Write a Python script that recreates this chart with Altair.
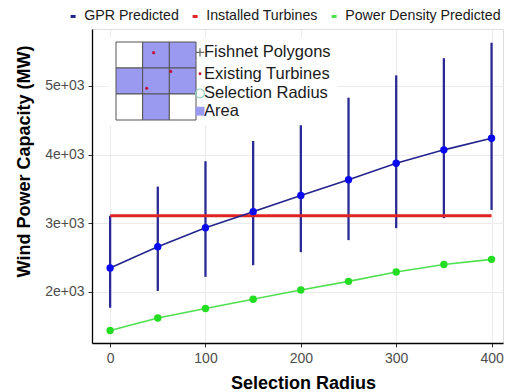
import altair as alt
import pandas as pd

# ---- main data ----
radius = [0, 50, 100, 150, 200, 250, 300, 350, 400]
gpr_mean = [2350, 2660, 2935, 3170, 3405, 3635, 3875, 4070, 4240]
gpr_lower = [1770, 2015, 2220, 2390, 2580, 2755, 2930, 3075, 3195]
gpr_upper = [3110, 3535, 3905, 4200, 4530, 4830, 5155, 5405, 5630]
installed = [3110, 3110, 3110, 3110, 3110, 3110, 3110, 3110, 3110]
density = [1440, 1620, 1760, 1895, 2030, 2155, 2290, 2400, 2475]

series_names = ["GPR Predicted", "Installed Turbines", "Power Density Predicted"]
series_colors = ["#23238e", "#e02424", "#4fe04f"]
point_colors = ["#0a0af0", "#22dd22"]

x_ticks = [0, 100, 200, 300, 400]
y_ticks = [2000, 3000, 4000, 5000]

# ---- inset legend (schematic grid) ----
cell_col = [0, 1, 2, 0, 1, 2, 0, 1, 2]
cell_row = [0, 0, 0, 1, 1, 1, 2, 2, 2]
cell_filled = [0, 1, 1, 1, 1, 1, 0, 1, 0]
turbine_col = [1.41, 2.05, 1.15]
turbine_row = [0.41, 1.13, 1.78]
inset_labels = ["Fishnet Polygons", "Existing Turbines", "Selection Radius", "Area"]
inset_label_row = [0.40, 1.22, 1.98, 2.66]
inset_box = [-0.3, 8.3, -0.19, 3.2]  # x0, x1, y0, y1 in grid cell units

FONT = "Liberation Sans"

gpr_df = pd.DataFrame({"radius": radius, "mean": gpr_mean, "lower": gpr_lower,
                       "upper": gpr_upper, "series": series_names[0]})
ins_df = pd.DataFrame({"radius": radius, "value": installed, "series": series_names[1]})
den_df = pd.DataFrame({"radius": radius, "value": density, "series": series_names[2]})
gpr_line_df = pd.DataFrame({"radius": radius, "value": gpr_mean, "series": series_names[0]})

xscale = alt.Scale(domain=[-19, 412], nice=False, zero=False)
yscale = alt.Scale(domain=[1257, 5830], nice=False, zero=False)

xaxis = alt.Axis(values=x_ticks, title="Selection Radius", grid=True, gridColor="#ebebeb",
                 gridWidth=1, domainColor="#000000", domainWidth=1.3, tickColor="#333333",
                 tickSize=4, labelColor="#4d4d4d", labelFontSize=14, labelPadding=4,
                 labelFont=FONT, titleFont=FONT, titleFontSize=18, titleFontWeight="bold",
                 titleColor="#000000", titleX=211, titleY=45, titleAnchor="start",
                 titleAlign="center", titleBaseline="alphabetic")
yaxis = alt.Axis(values=y_ticks, title="Wind Power Capacity (MW)", grid=True,
                 gridColor="#ebebeb", gridWidth=1, domainColor="#000000", domainWidth=1.3,
                 tickColor="#333333", tickSize=4, labelColor="#4d4d4d", labelFontSize=14,
                 labelPadding=4, labelFont=FONT, titleFont=FONT, titleFontSize=18,
                 titleFontWeight="bold", titleColor="#000000", titleX=-63, titleY=132,
                 titleAngle=-90, titleAlign="center", titleBaseline="alphabetic",
                 labelExpr="replace(format(datum.value, '.0e'), 'e+3', 'e+03')")

X = lambda f: alt.X(f, type="quantitative", scale=xscale, axis=xaxis)
Y = lambda f: alt.Y(f, type="quantitative", scale=yscale, axis=yaxis)

color = alt.Color("series:N", scale=alt.Scale(domain=series_names, range=series_colors),
                  legend=alt.Legend(orient="none", legendX=-26, legendY=-20,
                                    direction="horizontal", title=None, symbolType="stroke",
                                    symbolStrokeWidth=3, symbolSize=25, labelFontSize=14.2,
                                    labelFont=FONT, labelColor="#1a1a1a", labelOffset=4,
                                    columnPadding=7, padding=0))

errbars = alt.Chart(gpr_df).mark_rule(color="#2a2a96", strokeWidth=2.3).encode(
    x=X("radius"), y=Y("lower"), y2="upper")
red_line = alt.Chart(ins_df).mark_line(strokeWidth=3).encode(
    x=X("radius"), y=Y("value"), color=color)
gpr_line = alt.Chart(gpr_line_df).mark_line(strokeWidth=1.6).encode(
    x=X("radius"), y=Y("value"), color=color)
den_line = alt.Chart(den_df).mark_line(strokeWidth=1.6).encode(
    x=X("radius"), y=Y("value"), color=color)
gpr_pts = alt.Chart(gpr_df).mark_circle(size=55, opacity=1, color=point_colors[0]).encode(
    x=X("radius"), y=Y("mean"))
den_pts = alt.Chart(den_df).mark_circle(size=55, opacity=1, color=point_colors[1]).encode(
    x=X("radius"), y=Y("value"))

main = alt.layer(errbars, red_line, gpr_line, den_line, gpr_pts, den_pts)

# ---- inset ----
ixs = alt.Scale(domain=[0, 3], range=[24, 104], nice=False, zero=False)
iys = alt.Scale(domain=[0, 3], range=[13, 91], nice=False, zero=False)
IX = lambda f: alt.X(f, type="quantitative", scale=ixs, axis=None)
IY = lambda f: alt.Y(f, type="quantitative", scale=iys, axis=None)

cells = pd.DataFrame({"c0": cell_col, "r0": cell_row, "filled": cell_filled})
cells["c1"] = cells["c0"] + 1
cells["r1"] = cells["r0"] + 1
box = pd.DataFrame({"a": [inset_box[0]], "b": [inset_box[1]], "c": [inset_box[2]], "d": [inset_box[3]]})
turb = pd.DataFrame({"c": turbine_col, "r": turbine_row})
labs = pd.DataFrame({"label": inset_labels, "r": inset_label_row, "c": 3.3, "s": 3.15})

bg = alt.Chart(box).mark_rect(fill="white").encode(x=IX("a"), x2="b", y=IY("c"), y2="d")
grid = alt.Chart(cells).mark_rect(stroke="#555555", strokeWidth=1).encode(
    x=IX("c0"), x2="c1", y=IY("r0"), y2="r1",
    fill=alt.Fill("filled:N", scale=alt.Scale(domain=[0, 1], range=["#ffffff", "#9a9af0"]),
                  legend=None))
turbs = alt.Chart(turb).mark_circle(size=10, color="#c0103a", opacity=1).encode(
    x=IX("c"), y=IY("r"))
texts = alt.Chart(labs).mark_text(align="left", baseline="middle", fontSize=16.5, font=FONT,
                                  color="#1a1a1a").encode(x=IX("c"), y=IY("r"), text="label")
sym1 = alt.Chart(labs.iloc[[0]]).mark_point(shape="M-1,0L1,0M0,-1L0,1", size=70, stroke="#666666",
                                          strokeWidth=1.2, filled=False, opacity=1).encode(
    x=IX("s"), y=IY("r"))
sym2 = alt.Chart(labs.iloc[[1]]).mark_circle(size=8, color="#c0103a", opacity=1).encode(
    x=IX("s"), y=IY("r"))
sym3 = alt.Chart(labs.iloc[[2]]).mark_point(shape="circle", size=80, stroke="#8fd3bf",
                                          strokeWidth=1.2, filled=False, opacity=1).encode(
    x=IX("s"), y=IY("r"))
sym4 = alt.Chart(labs.iloc[[3]]).mark_square(size=80, color="#9a9af0", opacity=1).encode(
    x=IX("s"), y=IY("r"))

inset = alt.layer(bg, grid, turbs, texts, sym1, sym2, sym3, sym4)

chart = alt.layer(main, inset).resolve_scale(x="independent", y="independent").properties(
    width=411, height=314,
    autosize=alt.AutoSizeParams(type="none"),
    padding={"left": 84, "top": 21, "right": 1, "bottom": 49},
    background="white",
).configure_view(stroke=None).configure(font=FONT)

chart.save("out.html", embed_options={"renderer": "svg", "actions": False})
